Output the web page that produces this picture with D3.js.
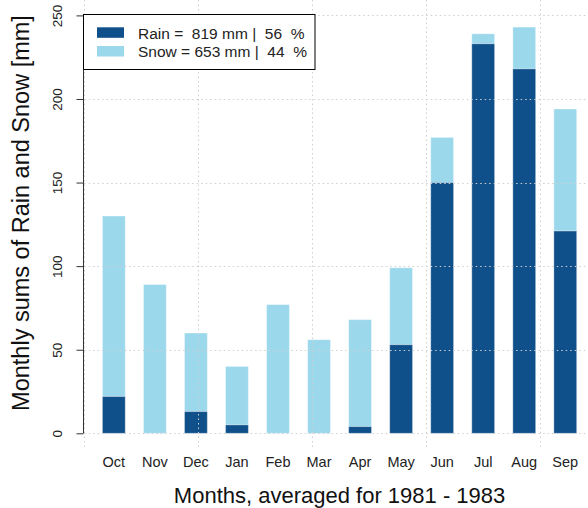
<!DOCTYPE html>
<html>
<head>
<meta charset="utf-8">
<script src="https://cdn.jsdelivr.net/npm/d3@7.9.0/dist/d3.min.js"></script>
<style>
  body { margin: 0; background: #fff; }
  svg { display: block; font-family: Arial, "Liberation Sans", sans-serif; }
</style>
</head>
<body>
<svg id="chart" width="588" height="508"></svg>
<script>
// monthly means, hydrological year Oct - Sep
const months = ['Oct', 'Nov', 'Dec', 'Jan', 'Feb', 'Mar', 'Apr', 'May', 'Jun', 'Jul', 'Aug', 'Sep'];
const rain = [22, 0, 13, 5, 0, 0, 4, 53, 150, 233, 218, 121];
const snow = [108, 89, 47, 35, 77, 56, 64, 46, 27, 6, 25, 73];
const yTicks = [0, 50, 100, 150, 200, 250];
const xGrid = [0, 5, 10, 15, 20];

const rainCol = '#0f508b';
const snowCol = '#9bd8eb';

const svg = d3.select('#chart');

// bar units like R barplot: width 1, space 0.8
const barW = 1, space = 0.8;
const x = d3.scaleLinear().domain([0, 22.43]).range([84.2, 595.6]);
const y = d3.scaleLinear().domain([0, 250]).range([433.3, 15.4]);

let data = months.map((m, i) => ({
    month: m,
    rain: rain[i],
    snow: snow[i],
    left: space + i * (barW + space)
}));

// bars
let bars = svg.append('g');
data.forEach((d) => {
    bars.append('rect')
        .attr('x', x(d.left))
        .attr('width', x(d.left + barW) - x(d.left))
        .attr('y', y(d.rain + d.snow))
        .attr('height', y(d.rain) - y(d.rain + d.snow))
        .attr('fill', snowCol)
        .attr('stroke', 'rgba(255,255,255,0.35)')
        .attr('stroke-width', 1);
    if (d.rain > 0) {
        bars.append('rect')
            .attr('x', x(d.left))
            .attr('width', x(d.left + barW) - x(d.left))
            .attr('y', y(d.rain))
            .attr('height', y(0) - y(d.rain))
            .attr('fill', rainCol)
            .attr('stroke', 'rgba(255,255,255,0.3)')
            .attr('stroke-width', 1);
    }
});

// dotted grid on top of the bars
let grid = svg.append('g')
    .attr('stroke', '#cfcfcf')
    .attr('stroke-width', 1)
    .attr('stroke-dasharray', '1.5,3');
yTicks.forEach((t) => {
    grid.append('line')
        .attr('x1', x(0)).attr('x2', 588)
        .attr('y1', Math.round(y(t)) + 0.5).attr('y2', Math.round(y(t)) + 0.5);
});
xGrid.forEach((g) => {
    grid.append('line')
        .attr('x1', Math.round(x(g)) + 0.5).attr('x2', Math.round(x(g)) + 0.5)
        .attr('y1', 0).attr('y2', 450);
});

// y axis
let yAxis = svg.append('g')
    .attr('transform', `translate(${Math.round(x(0)) - 0.5},0)`)
    .call(d3.axisLeft(y).tickValues(yTicks).tickSize(7).tickPadding(3));
yAxis.select('.domain').attr('stroke', '#333').attr('d', `M0,${y(0)}V${y(250)}`);
yAxis.selectAll('.tick line').attr('stroke', '#333');
yAxis.selectAll('.tick text')
    .attr('transform', 'rotate(-90)')
    .attr('x', 0)
    .attr('y', -22)
    .attr('dy', 0)
    .attr('text-anchor', 'middle')
    .attr('fill', '#222')
    .style('font-size', '13.5px')
    .style('font-family', 'Arial, "Liberation Sans", sans-serif');

// month labels
svg.append('g').selectAll('text')
    .data(data)
    .join('text')
    .attr('x', (d) => x(d.left + barW / 2))
    .attr('y', 467)
    .attr('text-anchor', 'middle')
    .attr('font-size', '14.5px')
    .attr('fill', '#222')
    .text((d) => d.month);

// axis titles
svg.append('text')
    .attr('x', (x(-0.03) + x(22.43)) / 2)
    .attr('y', 503)
    .attr('text-anchor', 'middle')
    .attr('font-size', '22px')
    .attr('fill', '#111')
    .text('Months, averaged for 1981 - 1983');

svg.append('text')
    .attr('transform', 'translate(29,213) rotate(-90)')
    .attr('text-anchor', 'middle')
    .attr('font-size', '23.5px')
    .attr('fill', '#111')
    .text('Monthly sums of Rain and Snow [mm]');

// legend with totals
let rainSum = d3.sum(rain), snowSum = d3.sum(snow);
let total = rainSum + snowSum;
let legendItems = [
    { label: `Rain =  ${rainSum} mm |  ${Math.round(100 * rainSum / total)}  %`, color: rainCol },
    { label: `Snow = ${snowSum} mm |  ${Math.round(100 * snowSum / total)}  %`, color: snowCol }
];

let legend = svg.append('g');
legend.append('rect')
    .attr('x', 83.5).attr('y', 14.5)
    .attr('width', 231.5).attr('height', 55)
    .attr('fill', '#fff')
    .attr('stroke', '#000')
    .attr('stroke-width', 1);
legendItems.forEach((d, i) => {
    legend.append('rect')
        .attr('x', 97).attr('y', 27.3 + i * 18.7)
        .attr('width', 27).attr('height', 10.5)
        .attr('fill', d.color);
    legend.append('text')
        .attr('x', 138)
        .attr('y', 38.5 + i * 18.7)
        .attr('font-size', '15.5px')
        .attr('fill', '#222')
        .style('white-space', 'pre')
        .attr('xml:space', 'preserve')
        .text(d.label);
});
</script>
</body>
</html>
